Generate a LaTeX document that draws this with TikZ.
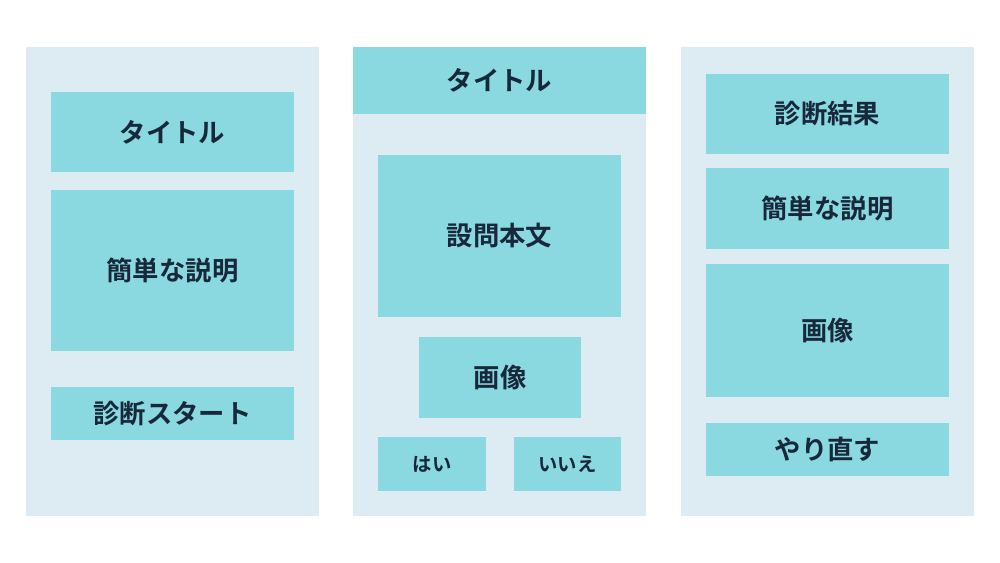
\documentclass[tikz,border=0pt]{standalone}
\usepackage{fontspec}
\setmainfont{Noto Sans CJK JP}[BoldFont={Noto Sans CJK JP Bold}]
\definecolor{panelbg}{HTML}{DDEBF2}
\definecolor{boxbg}{HTML}{8AD8E0}
\definecolor{ink}{HTML}{17283A}
\tikzset{panel/.style={rectangle, fill=panelbg, minimum width=5.86cm, minimum height=9.38cm, inner sep=0pt},
	part/.style={rectangle, fill=boxbg, minimum width=4.86cm, inner sep=0pt, text=ink, font=\bfseries\fontsize{15}{18}\selectfont},
	small/.style={part, minimum width=2.16cm, minimum height=1.08cm, font=\bfseries\fontsize{11}{13}\selectfont}}
\begin{document}
\begin{tikzpicture}[x=0.02cm, y=-0.02cm]
	\useasboundingbox (0,0) rectangle (1000,563);
	% panels
	\node (start) [panel] at (172.5,281.5) {};
	\node (question) [panel] at (499.5,281.5) {};
	\node (result) [panel] at (827.5,281.5) {};
	% start screen
	\node (title1) [part, minimum height=1.6cm] at (172.5,132) {タイトル};
	\node (desc1) [part, minimum height=3.22cm] at (172.5,270.5) {簡単な説明};
	\node (go) [part, minimum height=1.06cm] at (172.5,413.5) {診断スタート};
	% question screen
	\node (title2) [part, minimum width=5.86cm, minimum height=1.34cm] at (499.5,80.5) {タイトル};
	\node (body) [part, minimum height=3.24cm] at (499.5,236) {設問本文};
	\node (img2) [part, minimum width=3.24cm, minimum height=1.62cm] at (500,377.5) {画像};
	\node (yes) [small] at (432,464) {はい};
	\node (no) [small] at (567.5,464) {いいえ};
	% result screen
	\node (res) [part, minimum height=1.6cm] at (827.5,114) {診断結果};
	\node (desc3) [part, minimum height=1.62cm] at (827.5,208.5) {簡単な説明};
	\node (img3) [part, minimum height=2.66cm] at (827.5,330.5) {画像};
	\node (retry) [part, minimum height=1.06cm] at (827.5,449.5) {やり直す};
\end{tikzpicture}
\end{document}
